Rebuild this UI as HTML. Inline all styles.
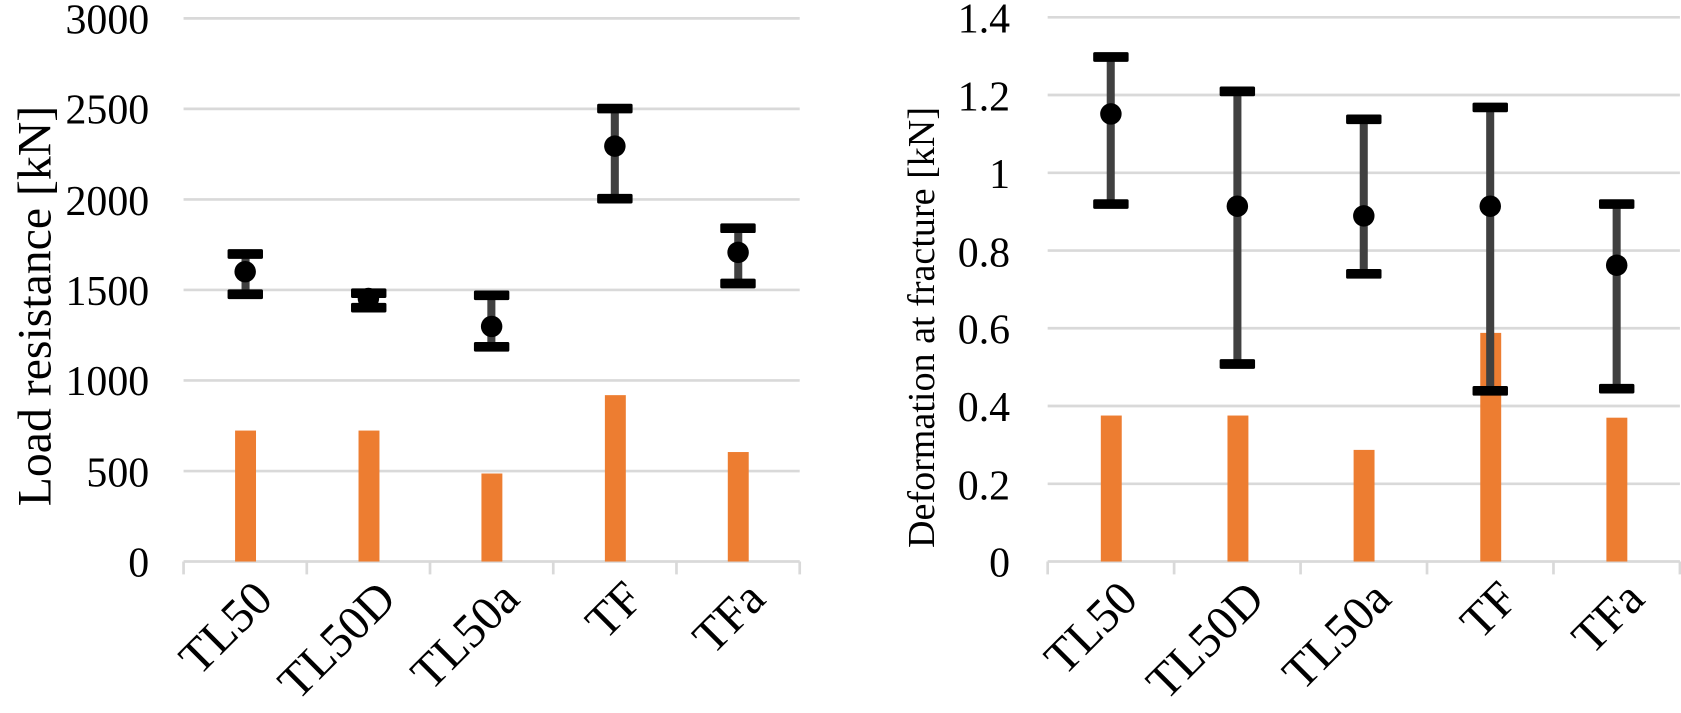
<!DOCTYPE html>
<html><head><meta charset="utf-8"><style>
html,body{margin:0;padding:0;background:#fff;}
svg{display:block;}
text{font-family:"Liberation Serif",serif;fill:#000;}
</style></head><body>
<svg width="1681" height="713" viewBox="0 0 1566 664" xmlns="http://www.w3.org/2000/svg">
<!-- LEFT CHART -->
<g stroke="#d9d9d9" stroke-width="2.5">
<line x1="171" x2="745" y1="17" y2="17"/><line x1="171" x2="745" y1="101.3" y2="101.3"/>
<line x1="171" x2="745" y1="185.7" y2="185.7"/><line x1="171" x2="745" y1="270" y2="270"/>
<line x1="171" x2="745" y1="354.3" y2="354.3"/><line x1="171" x2="745" y1="438.7" y2="438.7"/>
<line x1="171" x2="745" y1="523" y2="523"/>
<line x1="171" x2="171" y1="523" y2="535"/><line x1="285.8" x2="285.8" y1="523" y2="535"/>
<line x1="400.6" x2="400.6" y1="523" y2="535"/><line x1="515.4" x2="515.4" y1="523" y2="535"/>
<line x1="630.2" x2="630.2" y1="523" y2="535"/><line x1="745" x2="745" y1="523" y2="535"/>
</g>
<g font-size="39" text-anchor="end">
<text x="139" y="537">0</text><text x="139" y="453">500</text><text x="139" y="368">1000</text>
<text x="139" y="284">1500</text><text x="139" y="200">2000</text><text x="139" y="115">2500</text><text x="139" y="31">3000</text>
</g>
<text font-size="44.5" text-anchor="middle" transform="translate(47,285) rotate(-90)">Load resistance [kN]</text>
<g fill="#ed7d31">
<rect x="219" y="401" width="19.5" height="122"/><rect x="334" y="401" width="19.5" height="122"/>
<rect x="448.5" y="441" width="19.5" height="82"/><rect x="563.5" y="368" width="19.5" height="155"/>
<rect x="678" y="421" width="19.5" height="102"/>
</g>
<g>
<rect x="225" y="236" width="7.5" height="38" fill="#404040"/>
<rect x="212" y="232" width="33" height="9" rx="1.5" fill="#000"/><rect x="212" y="269.5" width="33" height="9" rx="1.5" fill="#000"/>
<circle cx="228.4" cy="253" r="10" fill="#000"/>
<rect x="339.5" y="273" width="7.5" height="13" fill="#404040"/>
<rect x="327" y="268.5" width="33" height="9" rx="1.5" fill="#000"/><rect x="327" y="282" width="33" height="9" rx="1.5" fill="#000"/>
<circle cx="343.2" cy="278" r="10" fill="#000"/>
<rect x="454" y="275" width="7.5" height="48" fill="#404040"/>
<rect x="441.5" y="270.5" width="33" height="9" rx="1.5" fill="#000"/><rect x="441.5" y="318.5" width="33" height="9" rx="1.5" fill="#000"/>
<circle cx="458" cy="304" r="10" fill="#000"/>
<rect x="569" y="101" width="7.5" height="84" fill="#404040"/>
<rect x="556.3" y="96.5" width="33" height="9" rx="1.5" fill="#000"/><rect x="556.3" y="180.5" width="33" height="9" rx="1.5" fill="#000"/>
<circle cx="572.8" cy="136" r="10" fill="#000"/>
<rect x="684" y="213" width="7.5" height="51" fill="#404040"/>
<rect x="671" y="208" width="33" height="9" rx="1.5" fill="#000"/><rect x="671" y="259.5" width="33" height="9" rx="1.5" fill="#000"/>
<circle cx="687.6" cy="235" r="10" fill="#000"/>
</g>
<g font-size="45" text-anchor="end">
<text transform="translate(256,560) rotate(-45)">TL50</text>
<text transform="translate(371,560) rotate(-45)">TL50D</text>
<text transform="translate(486,560) rotate(-45)">TL50a</text>
<text transform="translate(601,560) rotate(-45)">TF</text>
<text transform="translate(715,560) rotate(-45)">TFa</text>
</g>

<!-- RIGHT CHART -->
<g stroke="#d9d9d9" stroke-width="2.5">
<line x1="976" x2="1565" y1="16" y2="16"/><line x1="976" x2="1565" y1="88.4" y2="88.4"/>
<line x1="976" x2="1565" y1="160.9" y2="160.9"/><line x1="976" x2="1565" y1="233.3" y2="233.3"/>
<line x1="976" x2="1565" y1="305.7" y2="305.7"/><line x1="976" x2="1565" y1="378.1" y2="378.1"/>
<line x1="976" x2="1565" y1="450.6" y2="450.6"/><line x1="976" x2="1565" y1="523" y2="523"/>
<line x1="976" x2="976" y1="523" y2="535"/><line x1="1093.8" x2="1093.8" y1="523" y2="535"/>
<line x1="1211.6" x2="1211.6" y1="523" y2="535"/><line x1="1329.4" x2="1329.4" y1="523" y2="535"/>
<line x1="1447.2" x2="1447.2" y1="523" y2="535"/><line x1="1565" x2="1565" y1="523" y2="535"/>
</g>
<g font-size="39" text-anchor="end">
<text x="941" y="537">0</text><text x="941" y="465">0.2</text><text x="941" y="392">0.4</text>
<text x="941" y="320">0.6</text><text x="941" y="248">0.8</text><text x="941" y="175">1</text>
<text x="941" y="103">1.2</text><text x="941" y="30">1.4</text>
</g>
<text font-size="35.5" text-anchor="middle" transform="translate(870,305) rotate(-90)">Deformation at fracture [kN]</text>
<g fill="#ed7d31">
<rect x="1025.5" y="387" width="19.5" height="136"/><rect x="1143.5" y="387" width="19.5" height="136"/>
<rect x="1261" y="419" width="19.5" height="104"/><rect x="1379" y="310" width="19.5" height="213"/>
<rect x="1496.5" y="389" width="19.5" height="134"/>
</g>
<g>
<rect x="1031" y="53" width="7.5" height="137" fill="#404040"/>
<rect x="1018.4" y="48.5" width="33" height="9" rx="1.5" fill="#000"/><rect x="1018.4" y="185.5" width="33" height="9" rx="1.5" fill="#000"/>
<circle cx="1034.9" cy="106" r="10" fill="#000"/>
<rect x="1149" y="85" width="7.5" height="254" fill="#404040"/>
<rect x="1136.2" y="80.5" width="33" height="9" rx="1.5" fill="#000"/><rect x="1136.2" y="334.5" width="33" height="9" rx="1.5" fill="#000"/>
<circle cx="1152.7" cy="192" r="10" fill="#000"/>
<rect x="1266.7" y="111" width="7.5" height="144" fill="#404040"/>
<rect x="1254" y="106.5" width="33" height="9" rx="1.5" fill="#000"/><rect x="1254" y="250.5" width="33" height="9" rx="1.5" fill="#000"/>
<circle cx="1270.5" cy="201" r="10" fill="#000"/>
<rect x="1384.5" y="100" width="7.5" height="264" fill="#404040"/>
<rect x="1371.8" y="95.5" width="33" height="9" rx="1.5" fill="#000"/><rect x="1371.8" y="359.5" width="33" height="9" rx="1.5" fill="#000"/>
<circle cx="1388.3" cy="192" r="10" fill="#000"/>
<rect x="1502.3" y="190" width="7.5" height="172" fill="#404040"/>
<rect x="1489.6" y="185.5" width="33" height="9" rx="1.5" fill="#000"/><rect x="1489.6" y="357.5" width="33" height="9" rx="1.5" fill="#000"/>
<circle cx="1506.1" cy="247" r="10" fill="#000"/>
</g>
<g font-size="45" text-anchor="end">
<text transform="translate(1062,560) rotate(-45)">TL50</text>
<text transform="translate(1180,560) rotate(-45)">TL50D</text>
<text transform="translate(1298,560) rotate(-45)">TL50a</text>
<text transform="translate(1416,560) rotate(-45)">TF</text>
<text transform="translate(1534,560) rotate(-45)">TFa</text>
</g>
</svg>
</body></html>
